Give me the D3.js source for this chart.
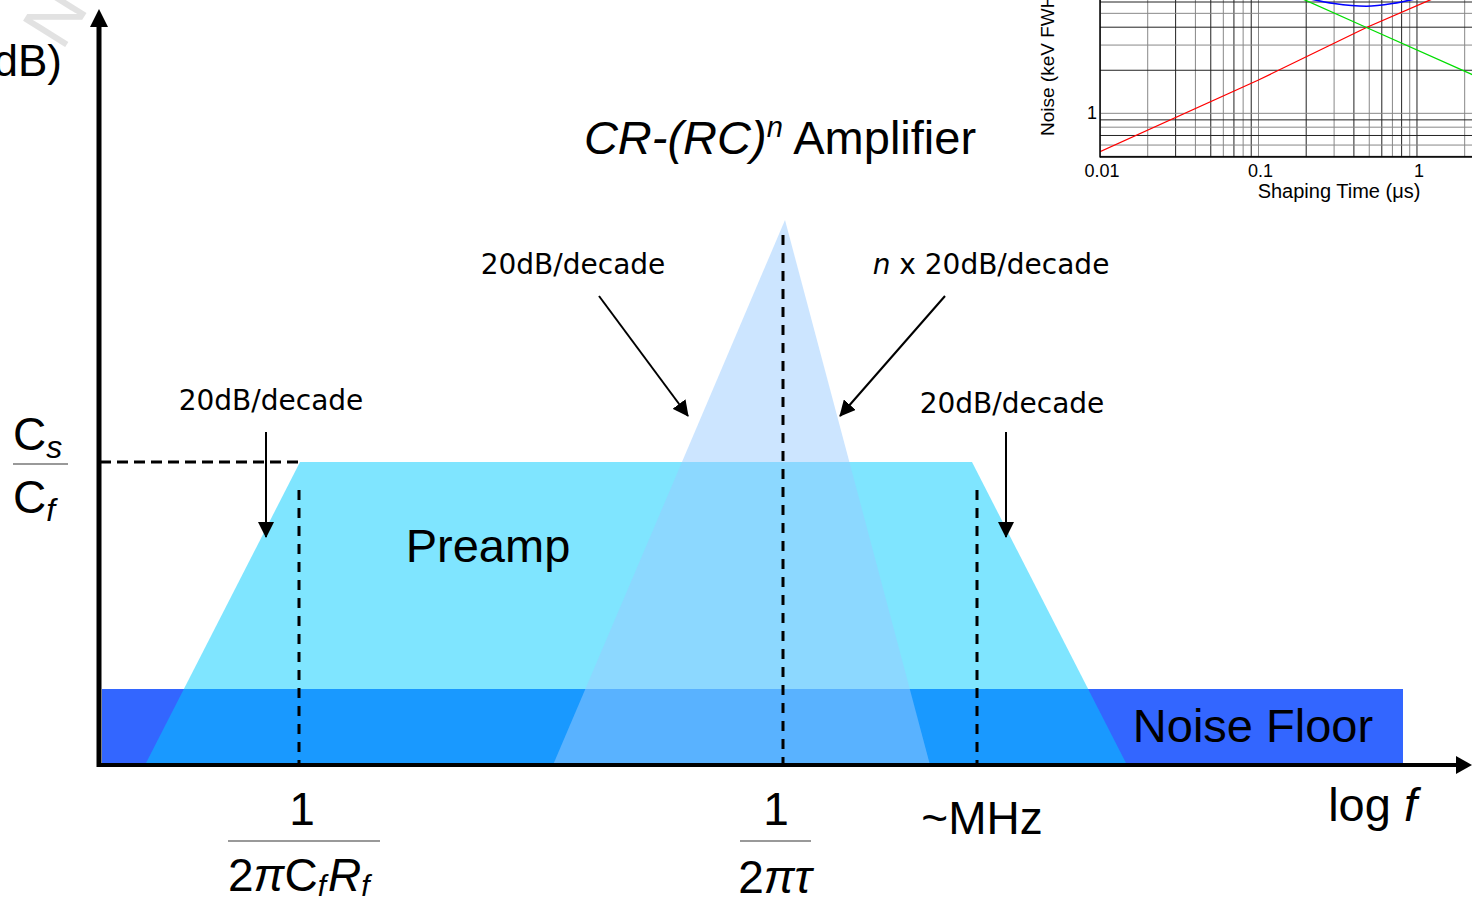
<!DOCTYPE html>
<html>
<head>
<meta charset="utf-8">
<script src="https://cdn.jsdelivr.net/npm/d3@7"></script>
<style>
  body { margin: 0; background: #fff; }
  svg { display: block; }
</style>
</head>
<body>
<svg id="chart" width="1472" height="902"></svg>
<script>
// schematic gain plot, x in log f units, y in gain units
const noiseFloor = [0.03, 13.04, 0.76];            // x0, x1, level
const preampPts = [[0.46, 0], [2.01, 3.03], [8.73, 3.03], [10.28, 0]];
const shaperPts = [[4.54, 0], [6.86, 5.45], [8.31, 0]];
const cornerX = [2.0, 6.84, 8.78];
const cornerTop = [2.75, 5.3, 2.75];
const gainLevel = 3.03;

// inset: noise vs shaping time
const tauTicks = [0.01, 0.1, 1];
const noiseTicks = [1];
const parallelNoise = [[0.01, 0.54], [0.1, 1.71], [0.48, 3.98], [1.25, 6.3]];
const seriesNoise = [[0.19, 6.3], [0.48, 3.98], [2.2, 1.88], [3, 1.6]];
const totalNoise = [[0.2, 6.4], [0.3, 5.85], [0.48, 5.6], [0.7, 5.85], [1.0, 6.35]];

const svg = d3.select("#chart");
const sans = "'Liberation Sans', Arial, sans-serif";
const dejavu = "'DejaVu Sans', Verdana, sans-serif";

const x = d3.scaleLinear().domain([0, 13.73]).range([99, 1472]);
const y = d3.scaleLinear().domain([0, 7.57]).range([765, 8]);

// faint watermark in the corner
svg.append("text")
  .attr("transform", "translate(62,52) rotate(-58)")
  .attr("font-family", sans).attr("font-size", 72)
  .attr("fill", "#e2e2e2")
  .text("N");

const defs = svg.append("defs");
defs.append("marker")
  .attr("id", "head")
  .attr("markerUnits", "userSpaceOnUse")
  .attr("viewBox", "0 0 16 16")
  .attr("refX", 15).attr("refY", 8)
  .attr("markerWidth", 16).attr("markerHeight", 16)
  .attr("orient", "auto")
  .append("path").attr("d", "M0,0 L16,8 L0,16 Z").attr("fill", "#000");

// noise floor
svg.append("rect")
  .attr("x", x(noiseFloor[0]))
  .attr("y", y(noiseFloor[2]))
  .attr("width", x(noiseFloor[1]) - x(noiseFloor[0]))
  .attr("height", y(0) - y(noiseFloor[2]))
  .attr("fill", "#3366ff");

const area = d3.line().x(d => x(d[0])).y(d => y(d[1]));

svg.append("path")
  .attr("d", area(preampPts) + "Z")
  .attr("fill", "#00ccff").attr("fill-opacity", 0.5);

svg.append("path")
  .attr("d", area(shaperPts) + "Z")
  .attr("fill", "#99ccff").attr("fill-opacity", 0.5);

// dashed guides
svg.append("line")
  .attr("x1", x(0.01)).attr("x2", x(1.99))
  .attr("y1", y(gainLevel)).attr("y2", y(gainLevel))
  .attr("stroke", "#000").attr("stroke-width", 3)
  .attr("stroke-dasharray", "11,6");

svg.selectAll(".corner")
  .data(cornerX)
  .join("line")
  .attr("class", "corner")
  .attr("x1", d => x(d)).attr("x2", d => x(d))
  .attr("y1", (d, i) => y(cornerTop[i])).attr("y2", y(0))
  .attr("stroke", "#000").attr("stroke-width", 3)
  .attr("stroke-dasharray", "10,8");

// axes
svg.append("line")
  .attr("x1", x(0)).attr("x2", x(0))
  .attr("y1", y(0) + 2).attr("y2", 26)
  .attr("stroke", "#000").attr("stroke-width", 5);
svg.append("path")
  .attr("d", `M${x(0) - 9},27 L${x(0) + 9},27 L${x(0)},9 Z`)
  .attr("fill", "#000");
svg.append("line")
  .attr("x1", x(0) - 2).attr("x2", 1458)
  .attr("y1", y(0)).attr("y2", y(0))
  .attr("stroke", "#000").attr("stroke-width", 4);
svg.append("path")
  .attr("d", `M1456,${y(0) - 9} L1456,${y(0) + 9} L1472,${y(0)} Z`)
  .attr("fill", "#000");

// annotation arrows
const arrows = [
  [266, 432, 266, 537],
  [599, 296, 688, 416],
  [945, 296, 840, 416],
  [1006, 432, 1006, 537]
];
svg.selectAll(".arrow")
  .data(arrows)
  .join("line")
  .attr("class", "arrow")
  .attr("x1", d => d[0]).attr("y1", d => d[1])
  .attr("x2", d => d[2]).attr("y2", d => d[3])
  .attr("stroke", "#000").attr("stroke-width", 2)
  .attr("marker-end", "url(#head)");

function label(tx, ty, txt, size, font, anchor) {
  return svg.append("text")
    .attr("x", tx).attr("y", ty)
    .attr("font-family", font || sans)
    .attr("font-size", size)
    .attr("text-anchor", anchor || "middle")
    .attr("fill", "#000")
    .text(txt);
}

label(271, 410, "20dB/decade", 28, dejavu);
label(573, 274, "20dB/decade", 28, dejavu);
label(1012, 413, "20dB/decade", 28, dejavu);
const nx = label(991, 274, "", 28, dejavu);
nx.append("tspan").attr("font-style", "italic").text("n");
nx.append("tspan").text(" x 20dB/decade");

// title
const title = svg.append("text")
  .attr("x", 780).attr("y", 154)
  .attr("text-anchor", "middle")
  .attr("font-family", sans).attr("font-size", 47);
title.append("tspan").attr("font-style", "italic").text("CR-(RC)");
title.append("tspan").attr("font-style", "italic").attr("font-size", 29)
  .attr("dy", -17).text("n");
title.append("tspan").attr("dy", 17).text(" Amplifier");

label(488, 562, "Preamp", 47);
label(1253, 742, "Noise Floor", 47);
label(62, 76, "Gain (dB)", 44, sans, "end");

// log f
const logf = label(1417, 821, "", 47, sans, "end");
logf.append("tspan").text("log ");
logf.append("tspan").attr("font-style", "italic").text("f");

label(982, 834, "~MHz", 46);

// Cs / Cf
const cs = label(13, 450, "", 46, sans, "start");
cs.append("tspan").text("C");
cs.append("tspan").attr("font-style", "italic").attr("font-size", 32).attr("dy", 8).text("s");
svg.append("line").attr("x1", 13).attr("x2", 68).attr("y1", 464).attr("y2", 464)
  .attr("stroke", "#777").attr("stroke-width", 1.5);
const cf = label(13, 513, "", 46, sans, "start");
cf.append("tspan").text("C");
cf.append("tspan").attr("font-style", "italic").attr("font-size", 32).attr("dy", 8).text("f");

// 1 / (2 pi Cf Rf)
label(x(2.03), 825, "1", 46);
svg.append("line").attr("x1", 228).attr("x2", 380).attr("y1", 841).attr("y2", 841)
  .attr("stroke", "#777").attr("stroke-width", 1.5);
const f1 = label(228, 891, "", 46, sans, "start");
f1.append("tspan").text("2");
f1.append("tspan").attr("font-style", "italic").text("π");
f1.append("tspan").text("C");
f1.append("tspan").attr("font-style", "italic").attr("font-size", 30).attr("dy", 5).text("f");
f1.append("tspan").attr("font-style", "italic").attr("dx", 2).attr("dy", -5).text("R");
f1.append("tspan").attr("font-style", "italic").attr("font-size", 30).attr("dy", 5).text("f");

// 1 / (2 pi tau)
label(x(6.77), 825, "1", 46);
svg.append("line").attr("x1", 740).attr("x2", 811).attr("y1", 841).attr("y2", 841)
  .attr("stroke", "#777").attr("stroke-width", 1.5);
const f2 = label(775, 893, "", 46);
f2.append("tspan").text("2");
f2.append("tspan").attr("font-style", "italic").text("πτ");

// ---- inset
const ix = d3.scaleLog().domain([0.01, 2.3]).range([1100, 1474.3]);
const iy = d3.scaleLog().domain([0.495, 8.2]).range([157, -17.4]);

defs.append("clipPath").attr("id", "insetClip")
  .append("rect").attr("x", 1100).attr("y", 0).attr("width", 372).attr("height", 157);

const inset = svg.append("g");
const grid = inset.append("g").attr("clip-path", "url(#insetClip)");

grid.selectAll(".vg")
  .data(ix.ticks())
  .join("line")
  .attr("x1", d => ix(d)).attr("x2", d => ix(d))
  .attr("y1", 0).attr("y2", 157)
  .attr("stroke", (d, i) => i % 2 ? "#888" : "#222")
  .attr("stroke-width", 1);

grid.selectAll(".hg")
  .data(iy.ticks())
  .join("line")
  .attr("x1", 1100).attr("x2", 1472)
  .attr("y1", d => iy(d)).attr("y2", d => iy(d))
  .attr("stroke", (d, i) => i % 2 ? "#888" : "#222")
  .attr("stroke-width", 1);

const curve = d3.line().x(d => ix(d[0])).y(d => iy(d[1]));
grid.append("path").attr("d", curve(parallelNoise))
  .attr("fill", "none").attr("stroke", "#ff0000").attr("stroke-width", 1.3);
grid.append("path").attr("d", curve(seriesNoise))
  .attr("fill", "none").attr("stroke", "#00dd00").attr("stroke-width", 1.3);
grid.append("path").attr("d", curve.curve(d3.curveMonotoneX)(totalNoise))
  .attr("fill", "none").attr("stroke", "#0000ff").attr("stroke-width", 1.6);

inset.append("line").attr("x1", 1100).attr("x2", 1100).attr("y1", 0).attr("y2", 157.5)
  .attr("stroke", "#000").attr("stroke-width", 1.5);
inset.append("line").attr("x1", 1100).attr("x2", 1472).attr("y1", 157).attr("y2", 157)
  .attr("stroke", "#000").attr("stroke-width", 1.5);

inset.selectAll(".xt")
  .data(tauTicks)
  .join("text")
  .attr("x", d => ix(d) + 2).attr("y", 177)
  .attr("text-anchor", "middle")
  .attr("font-family", sans).attr("font-size", 18)
  .text(d => d);

inset.selectAll(".yt")
  .data(noiseTicks)
  .join("text")
  .attr("x", 1097).attr("y", d => iy(d) + 6)
  .attr("text-anchor", "end")
  .attr("font-family", sans).attr("font-size", 18)
  .text(d => d);

inset.append("text")
  .attr("x", 1339).attr("y", 198)
  .attr("text-anchor", "middle")
  .attr("font-family", sans).attr("font-size", 20)
  .text("Shaping Time (μs)");

inset.append("text")
  .attr("transform", "translate(1054,136) rotate(-90)")
  .attr("font-family", sans).attr("font-size", 19)
  .text("Noise (keV FWHM)");
</script>
</body>
</html>
